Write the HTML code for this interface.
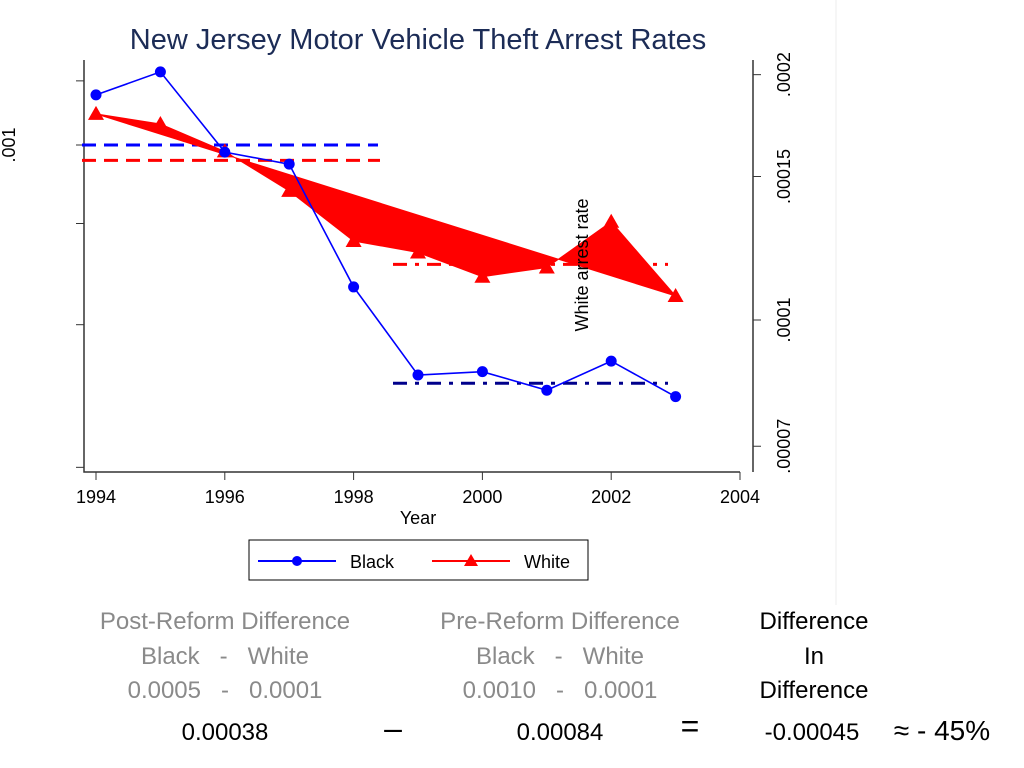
<!DOCTYPE html>
<html><head><meta charset="utf-8"><style>
body{margin:0;background:#fff;width:1024px;height:768px;overflow:hidden;font-family:"Liberation Sans",sans-serif}
.t{position:absolute;font-size:24px;white-space:nowrap;transform:translateX(-50%)}
.g{color:#8a8a8a}
</style></head><body>
<svg id="chart" width="1024" height="610" style="position:absolute;left:0;top:0" font-family="Liberation Sans, sans-serif">
<line x1="836" y1="0" x2="836" y2="605" stroke="#eee"/>
<text x="418" y="49" font-size="29" fill="#1c2c56" text-anchor="middle">New Jersey Motor Vehicle Theft Arrest Rates</text>
<text transform="translate(15,145) rotate(-90)" font-size="18" text-anchor="middle">.001</text>
<g id="axes"></g>
<g id="marks"></g>
<text transform="translate(588,265) rotate(-90)" font-size="18" text-anchor="middle">White arrest rate</text>
<text x="418" y="524" font-size="18" text-anchor="middle">Year</text>
<g>
<rect x="249" y="540" width="339" height="40" fill="#fff" stroke="#000"/>
<line x1="258" y1="561" x2="336" y2="561" stroke="#00f" stroke-width="2"/><circle cx="297" cy="561" r="5" fill="#00f"/>
<text x="350" y="568" font-size="18">Black</text>
<line x1="432" y1="561" x2="510" y2="561" stroke="#f00" stroke-width="2"/><polygon points="471,554 464,566 478,566" fill="#f00"/>
<text x="524" y="568" font-size="18">White</text>
</g>
</svg>
<div class="t g" style="left:225px;top:608px">Post-Reform Difference</div>
<div class="t g" style="left:225px;top:643px">Black &nbsp;&nbsp;- &nbsp;&nbsp;White</div>
<div class="t g" style="left:225px;top:677px">0.0005 &nbsp;&nbsp;- &nbsp;&nbsp;0.0001</div>
<div class="t" style="left:225px;top:719px">0.00038</div>
<div class="t g" style="left:560px;top:608px">Pre-Reform Difference</div>
<div class="t g" style="left:560px;top:643px">Black &nbsp;&nbsp;- &nbsp;&nbsp;White</div>
<div class="t g" style="left:560px;top:677px">0.0010 &nbsp;&nbsp;- &nbsp;&nbsp;0.0001</div>
<div class="t" style="left:560px;top:719px">0.00084</div>
<div class="t" style="left:393px;top:710px;font-size:32px">–</div>
<div class="t" style="left:690px;top:708px;font-size:32px">=</div>
<div class="t" style="left:814px;top:608px">Difference</div>
<div class="t" style="left:814px;top:643px">In</div>
<div class="t" style="left:814px;top:677px">Difference</div>
<div class="t" style="left:812px;top:719px">-0.00045</div>
<div class="t" style="left:942px;top:715px;font-size:28px">≈ - 45%</div>
<script>
const years=[1994,1995,1996,1997,1998,1999,2000,2001,2002,2003];
const black=[0.001153,0.001231,0.00098,0.000947,0.000668,0.00052,0.000525,0.000498,0.000541,0.000489];
const white=[0.000179,0.000174,0.000161,0.000144,0.000125,0.000121,0.000113,0.000116,0.000132,0.000107];
const xTicks=[1994,1996,1998,2000,2002,2004];
const leftTicks=[0.0012,0.001,0.0008,0.0006,0.0004];
const rightTicks=[0.0002,0.00015,0.0001,0.00007];
const rightTickLabels=[".0002",".00015",".0001",".00007"];
const preMeans=[0.001,0.000157];
const postMeans=[0.000508,0.000117];
const X=y=>96+(y-1994)*64.4;
const YB=v=>145-810*Math.log10(v/0.001);
const YW=v=>320-815*Math.log10(v/0.0001);
const NS="http://www.w3.org/2000/svg";
function mk(p,t,a){const e=document.createElementNS(NS,t);for(const k in a)e.setAttribute(k,a[k]);p.appendChild(e);return e;}
const ax=document.getElementById('axes'),mk2=document.getElementById('marks');
let e=mk(ax,'path',{d:'M84 60V472H740M753 60V472',stroke:'#333',fill:'none','stroke-width':1.5});


xTicks.forEach(t=>{mk(ax,'line',{x1:X(t),x2:X(t),y1:472,y2:480,stroke:'#333'});
e=mk(ax,'text',{x:X(t),y:503,'font-size':18,'text-anchor':'middle'});e.textContent=t;

});
leftTicks.forEach(t=>mk(ax,'line',{x1:76,x2:84,y1:YB(t),y2:YB(t),stroke:'#333'}));
rightTicks.forEach((t,i)=>{mk(ax,'line',{x1:753,x2:761,y1:YW(t),y2:YW(t),stroke:'#333'});
e=mk(ax,'text',{transform:`translate(790,${YW(t)}) rotate(-90)`,'font-size':18,'text-anchor':'middle'});e.textContent=rightTickLabels[i];

});
e=mk(mk2,'line',{x1:82,x2:378,y1:YB(preMeans[0]),y2:YB(preMeans[0]),stroke:'#00f','stroke-width':3,'stroke-dasharray':'14 8'});


e=mk(mk2,'line',{x1:82,x2:380,y1:YW(preMeans[1]),y2:YW(preMeans[1]),stroke:'#f00','stroke-width':3,'stroke-dasharray':'14 8'});


e=mk(mk2,'line',{x1:393,x2:668,y1:YB(postMeans[0]),y2:YB(postMeans[0]),stroke:'#00008b','stroke-width':3,'stroke-dasharray':'14 8 4 8'});


e=mk(mk2,'line',{x1:393,x2:668,y1:YW(postMeans[1]),y2:YW(postMeans[1]),stroke:'#f00','stroke-width':3,'stroke-dasharray':'14 8 4 8'});


e=mk(mk2,'polygon',{points:years.map((y,i)=>X(y)+','+YW(white[i])).join(' '),fill:'#f00',stroke:'#f00','fill-rule':'evenodd'});


years.forEach((y,i)=>{const x=X(y),yy=YW(white[i]);
e=mk(mk2,'polygon',{points:`${x},${yy-8} ${x-8},${yy+6} ${x+8},${yy+6}`,fill:'#f00'});

});
e=mk(mk2,'polyline',{points:years.map((y,i)=>X(y)+','+YB(black[i])).join(' '),fill:'none',stroke:'#00f','stroke-width':1.6});


years.forEach((y,i)=>{e=mk(mk2,'circle',{cx:X(y),cy:YB(black[i]),r:5.5,fill:'#00f'});

});
</script>
</body></html>
